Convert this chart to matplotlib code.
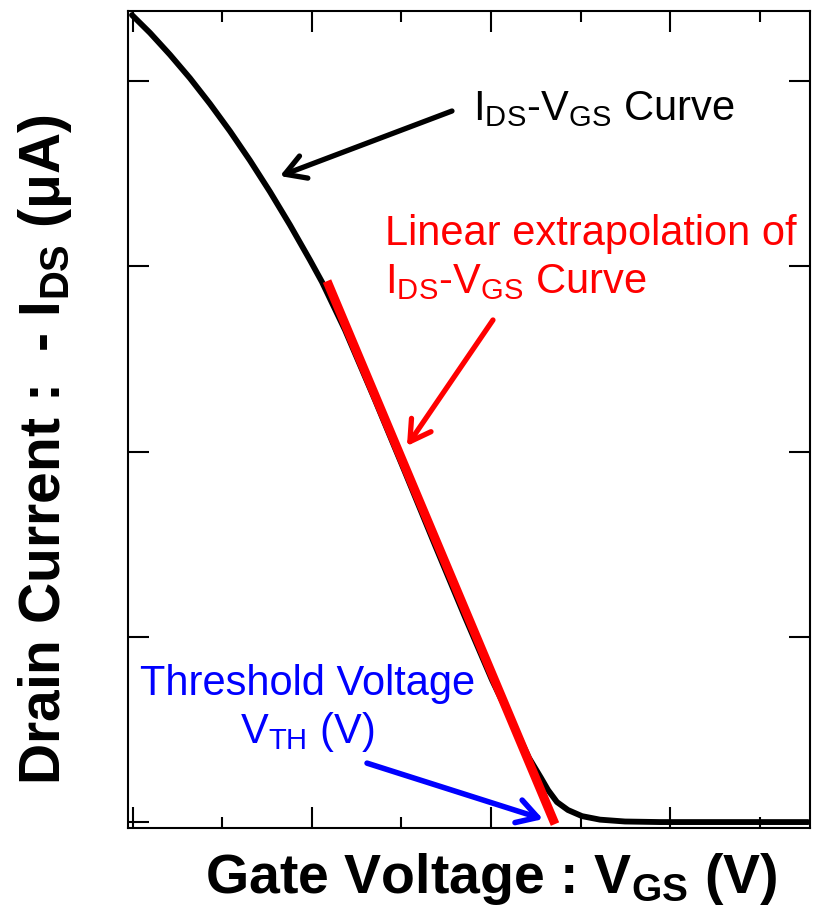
import matplotlib
matplotlib.use("Agg")
import matplotlib.pyplot as plt

plt.rcParams["font.family"] = ["Liberation Sans", "DejaVu Sans"]
plt.rcParams["mathtext.fontset"] = "custom"
plt.rcParams["mathtext.rm"] = "Liberation Sans"
plt.rcParams["mathtext.it"] = "Liberation Sans:italic"
plt.rcParams["mathtext.bf"] = "Liberation Sans:bold"

# I_DS-V_GS transfer curve (arbitrary units)
vgs = [-0.011, 0.190, 0.413, 0.637, 0.860, 1.084, 1.307, 1.531, 1.754, 1.978,
       2.112, 2.369, 2.704, 3.039, 3.374, 3.709, 4.011, 4.268, 4.425, 4.559,
       4.637, 4.737, 4.860, 5.017, 5.218, 5.497, 5.888, 7.542]
ids = [4.356, 4.260, 4.142, 4.015, 3.877, 3.729, 3.571, 3.402, 3.223, 3.033,
       2.915, 2.656, 2.278, 1.889, 1.495, 1.107, 0.767, 0.508, 0.346, 0.238,
       0.173, 0.108, 0.065, 0.032, 0.013, 0.003, 0.0, 0.0]

# linear extrapolation of the steep part down to the V_GS axis
fit_vgs = [2.168, 4.715]
fit_ids = [2.920, -0.011]

RED = "#ff0000"
BLUE = "#0000ff"

fig = plt.figure(figsize=(8.13, 9.14), dpi=100)
ax = fig.add_axes([0.1574, 0.0941, 0.8389, 0.8939])

ax.plot(vgs, ids, color="black", lw=4.2, solid_capstyle="round",
        solid_joinstyle="round", zorder=2)
ax.plot(fit_vgs, fit_ids, color=RED, lw=6.5, solid_capstyle="butt", zorder=3)

ax.set_xlim(-0.056, 7.564)
ax.set_ylim(-0.032, 4.378)
ax.set_xticks([0, 2, 4, 6])
ax.set_xticks([1, 3, 5, 7], minor=True)
ax.set_yticks([0, 1, 2, 3, 4])
ax.tick_params(which="both", direction="in", top=True, right=True, width=1.5,
               labelbottom=False, labelleft=False)
ax.tick_params(which="major", length=15)
ax.tick_params(which="minor", length=8)
for s in ax.spines.values():
    s.set_linewidth(1.5)


def arrow(xy, xytext, color, lw):
    ax.annotate("", xy=xy, xytext=xytext,
                arrowprops=dict(arrowstyle="->,head_length=1.45,head_width=0.85",
                                color=color, lw=lw, mutation_scale=10,
                                shrinkA=0, shrinkB=0, capstyle="round",
                                joinstyle="round"),
                zorder=4)


arrow((1.642, 3.487), (3.564, 3.838), "black", 3.8)
arrow((3.061, 2.030), (4.022, 2.710), RED, 3.8)
arrow((4.581, 0.016), (2.615, 0.318), BLUE, 4.0)

fs = 30
ax.text(3.799, 3.790, r"$\mathrm{I_{DS}}$-$\mathrm{V_{GS}}$ Curve", fontsize=fs,
        color="black", va="baseline", ha="left")
ax.text(2.816, 3.115, "Linear extrapolation of", fontsize=fs, color=RED,
        va="baseline", ha="left")
ax.text(2.816, 2.856, r"$\mathrm{I_{DS}}$-$\mathrm{V_{GS}}$ Curve", fontsize=fs,
        color=RED, va="baseline", ha="left")
ax.text(1.955, 0.686, "Threshold Voltage", fontsize=fs, color=BLUE,
        va="baseline", ha="center")
ax.text(1.944, 0.426, r"$\mathrm{V_{TH}}$ (V)", fontsize=fs, color=BLUE,
        va="baseline", ha="center")

fig.text(0.604, 0.023, r"Gate Voltage : $\mathbf{V_{GS}}$ (V)", fontsize=40,
         fontweight="bold", ha="center", va="baseline")
fig.text(0.055, 0.508, r"Drain Current :  - $\mathbf{I_{DS}}$ (μA)", fontsize=41,
         fontweight="bold", ha="center", va="center", rotation=90)

fig.savefig("out.png", dpi=100)
